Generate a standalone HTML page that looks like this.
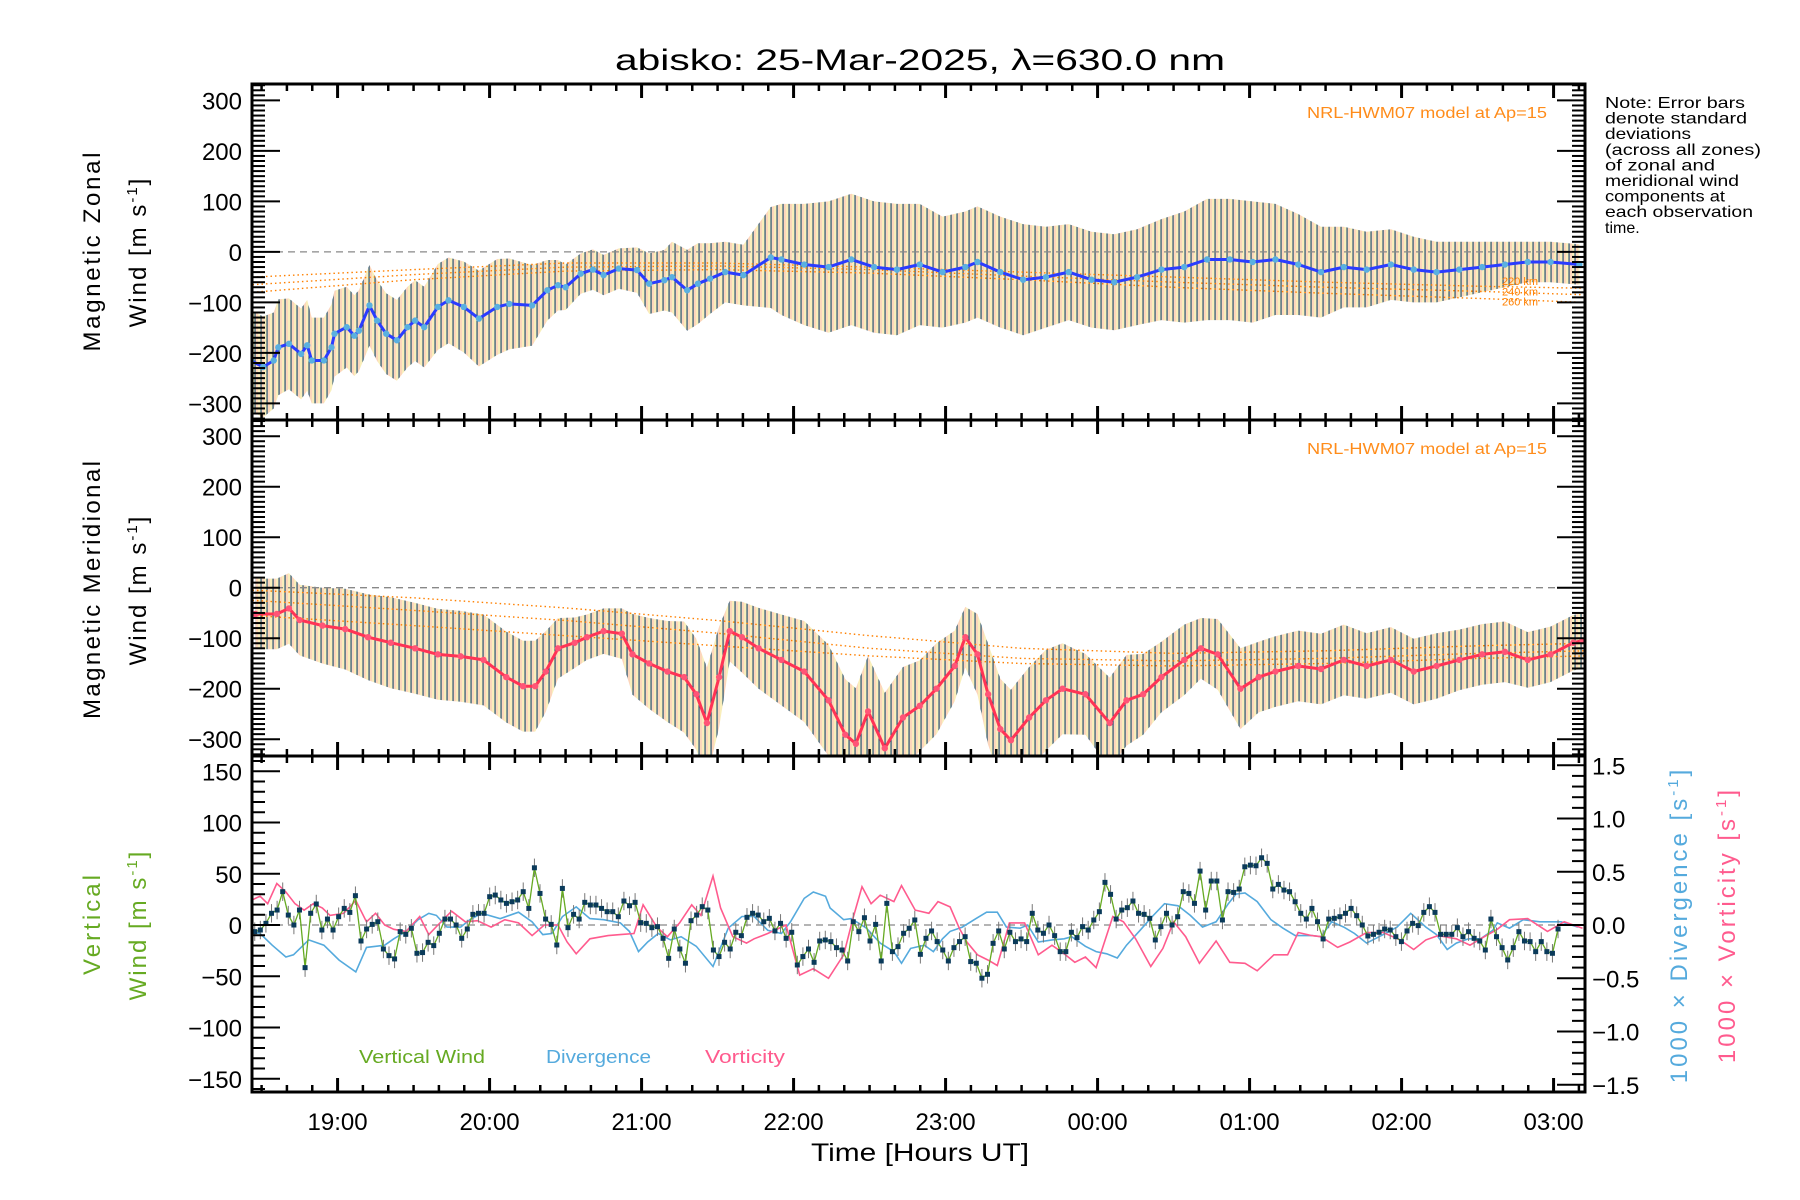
<!DOCTYPE html>
<html><head><meta charset="utf-8"><style>
html,body{margin:0;padding:0;background:#fff}
svg{display:block;font-family:"Liberation Sans","DejaVu Sans",sans-serif}
</style></head><body>
<svg id="chart" width="1800" height="1200" viewBox="0 0 1800 1200" xmlns="http://www.w3.org/2000/svg">
<defs>
<pattern id="barpat" patternUnits="userSpaceOnUse" width="6" height="10"><rect width="6" height="10" fill="#fcd6bc"/><rect x="0" width="3" height="10" fill="#f9eebb"/><rect x="2.5" width="1.1" height="10" fill="#13466b"/></pattern>
<clipPath id="c1"><rect x="252" y="84" width="1333" height="336"/></clipPath>
<clipPath id="c2"><rect x="252" y="420" width="1333" height="336"/></clipPath>
<clipPath id="c3"><rect x="252" y="756" width="1333" height="336"/></clipPath>
</defs>
<text x="920" y="70" font-size="30" text-anchor="middle" textLength="610" lengthAdjust="spacingAndGlyphs">abisko: 25-Mar-2025, λ=630.0 nm</text>
<g id="layer"></g>
<g id="axes"></g>
<text font-size="16" x="1605" y="108" font-weight="normal">
<tspan x="1605" dy="0" textLength="140" lengthAdjust="spacingAndGlyphs">Note: Error bars</tspan><tspan x="1605" dy="15.6" textLength="142" lengthAdjust="spacingAndGlyphs">denote standard</tspan><tspan x="1605" dy="15.6" textLength="86" lengthAdjust="spacingAndGlyphs">deviations</tspan><tspan x="1605" dy="15.6" textLength="156" lengthAdjust="spacingAndGlyphs">(across all zones)</tspan><tspan x="1605" dy="15.6" textLength="110" lengthAdjust="spacingAndGlyphs">of zonal and</tspan><tspan x="1605" dy="15.6" textLength="134" lengthAdjust="spacingAndGlyphs">meridional wind</tspan><tspan x="1605" dy="15.6" textLength="120" lengthAdjust="spacingAndGlyphs">components at</tspan><tspan x="1605" dy="15.6" textLength="148" lengthAdjust="spacingAndGlyphs">each observation</tspan><tspan x="1605" dy="15.6">time.</tspan></text>
<text x="1547" y="118" font-size="16" fill="#ff8c1a" text-anchor="end" textLength="240" lengthAdjust="spacingAndGlyphs">NRL-HWM07 model at Ap=15</text>
<text x="1547" y="454" font-size="16" fill="#ff8c1a" text-anchor="end" textLength="240" lengthAdjust="spacingAndGlyphs">NRL-HWM07 model at Ap=15</text>
<text font-size="24" text-anchor="middle" transform="translate(100,252) rotate(-90)" textLength="199">Magnetic Zonal</text>
<text font-size="24" text-anchor="middle" transform="translate(146,252) rotate(-90)" letter-spacing="2">Wind [m s<tspan font-size="15" dy="-9">-1</tspan><tspan dy="9">]</tspan></text>
<text font-size="24" text-anchor="middle" transform="translate(100,590) rotate(-90)" textLength="258">Magnetic Meridional</text>
<text font-size="24" text-anchor="middle" transform="translate(146,590) rotate(-90)" letter-spacing="2">Wind [m s<tspan font-size="15" dy="-9">-1</tspan><tspan dy="9">]</tspan></text>
<text font-size="24" fill="#66aa22" text-anchor="middle" transform="translate(100,925) rotate(-90)" textLength="100">Vertical</text>
<text font-size="24" fill="#66aa22" text-anchor="middle" transform="translate(146,925) rotate(-90)" letter-spacing="2">Wind [m s<tspan font-size="15" dy="-9">-1</tspan><tspan dy="9">]</tspan></text>
<text font-size="24" fill="#55aadd" text-anchor="middle" transform="translate(1687,925) rotate(-90)" letter-spacing="3">1000 × Divergence [s<tspan font-size="15" dy="-9">-1</tspan><tspan dy="9">]</tspan></text>
<text font-size="24" fill="#ff5b8e" text-anchor="middle" transform="translate(1735,925) rotate(-90)" letter-spacing="3">1000 × Vorticity [s<tspan font-size="15" dy="-9">-1</tspan><tspan dy="9">]</tspan></text>
<text x="359" y="1063" font-size="18" fill="#66aa22" textLength="126" lengthAdjust="spacingAndGlyphs">Vertical Wind</text>
<text x="546" y="1063" font-size="18" fill="#55aadd" textLength="105" lengthAdjust="spacingAndGlyphs">Divergence</text>
<text x="705" y="1063" font-size="18" fill="#ff5b8e" textLength="80" lengthAdjust="spacingAndGlyphs">Vorticity</text>
<text x="920" y="1161" font-size="25" text-anchor="middle" textLength="218" lengthAdjust="spacingAndGlyphs">Time [Hours UT]</text>
</svg>
<script>
// ---- data ----
const zonalTimes=[18.43,18.51,18.58,18.61,18.68,18.76,18.80,18.83,18.91,18.96,18.98,19.06,19.11,19.14,19.21,19.26,19.32,19.39,19.46,19.51,19.57,19.66,19.73,19.83,19.93,20.05,20.13,20.28,20.38,20.45,20.50,20.60,20.68,20.75,20.85,20.97,21.05,21.15,21.20,21.30,21.37,21.45,21.55,21.67,21.85,21.92,22.07,22.23,22.38,22.53,22.68,22.83,22.98,23.13,23.21,23.36,23.51,23.66,23.81,23.96,24.11,24.26,24.42,24.57,24.72,24.87,25.02,25.17,25.32,25.47,25.62,25.77,25.93,26.08,26.23,26.38,26.53,26.68,26.83,26.98,27.17];
const zonalMean=[-215,-228,-215,-189,-182,-202,-185,-215,-215,-189,-162,-149,-166,-156,-106,-136,-162,-175,-149,-136,-149,-109,-96,-109,-132,-109,-103,-106,-76,-66,-70,-43,-35,-46,-33,-36,-63,-56,-50,-76,-63,-53,-40,-46,-11,-15,-25,-30,-15,-30,-35,-25,-40,-30,-20,-40,-55,-50,-40,-55,-60,-50,-35,-30,-15,-15,-20,-15,-25,-40,-30,-35,-25,-35,-40,-35,-30,-25,-20,-20,-25];
const zonalSd=[100,100,95,95,90,90,90,85,85,85,85,80,80,80,80,80,80,80,80,80,80,85,85,90,95,95,90,80,60,50,45,40,40,40,40,45,60,60,70,80,80,70,60,60,100,110,120,130,130,130,130,120,110,110,110,110,110,100,95,95,95,95,100,110,120,120,120,110,100,90,80,75,70,65,60,55,50,45,40,40,40];
const meridTimes=[18.46,18.60,18.68,18.75,18.90,19.05,19.20,19.35,19.51,19.66,19.81,19.96,20.11,20.22,20.30,20.37,20.45,20.56,20.64,20.75,20.87,20.94,21.05,21.17,21.28,21.36,21.43,21.51,21.58,21.66,21.77,21.92,22.07,22.23,22.34,22.41,22.49,22.60,22.72,22.83,22.94,23.06,23.13,23.21,23.28,23.36,23.43,23.55,23.66,23.77,23.92,24.08,24.19,24.30,24.42,24.57,24.68,24.79,24.94,25.06,25.17,25.32,25.47,25.62,25.77,25.93,26.08,26.23,26.38,26.53,26.68,26.83,26.98,27.13,27.19];
const meridMean=[-52,-52,-41,-64,-75,-82,-98,-109,-120,-132,-136,-143,-177,-195,-195,-166,-120,-109,-98,-86,-91,-132,-150,-166,-177,-211,-268,-177,-86,-98,-120,-143,-166,-223,-291,-309,-245,-318,-257,-234,-200,-155,-98,-132,-211,-280,-302,-257,-223,-200,-211,-268,-223,-211,-177,-143,-120,-132,-200,-177,-166,-155,-161,-143,-155,-143,-166,-155,-143,-132,-127,-143,-132,-109,-105];
const meridSd=[70,70,70,70,75,80,85,90,90,90,90,90,90,90,90,80,60,50,45,45,50,80,90,100,110,110,110,100,60,70,80,90,100,110,110,110,110,110,100,90,90,70,60,80,100,100,100,100,100,90,80,90,90,80,70,70,60,70,80,70,70,70,70,70,65,65,65,65,60,60,60,55,55,55,55];
const modelTimes=[18.44,19.5,20.5,21.5,22.5,23.5,24.5,25.5,26.5,27.21];
const zonalModel220=[-50,-35,-22,-22,-30,-40,-50,-60,-68,-72];
const zonalModel240=[-65,-45,-30,-28,-35,-48,-60,-70,-78,-85];
const zonalModel260=[-80,-55,-38,-35,-42,-55,-70,-82,-92,-100];
const meridModel220=[-5,-20,-40,-65,-95,-120,-130,-125,-115,-110];
const meridModel240=[-25,-45,-65,-90,-120,-140,-145,-140,-130,-125];
const meridModel260=[-55,-75,-95,-115,-135,-150,-155,-150,-140,-135];
const vertStart=18.455;
const vertCadence=0.0368;
const vertWind=[-6.5,-4.9,1.6,11.4,14.6,32.5,9.7,0,14.6,-41.6,11.4,20.5,-4.9,5.8,-4.9,8.1,16.2,12.3,28.6,-15.6,-3.9,0.6,3.2,-23.4,-29.9,-33.1,-6.5,-9.1,-3.2,-27.6,-26.9,-16.9,-20.1,-8.1,5.8,5.8,0,-13,-3.9,10.4,11.4,11.4,27.6,29.2,24.4,21.1,22.7,24.4,32.5,16.2,55.8,30.8,5.8,0.6,-19.5,35.7,-2.6,10.4,5.8,22.1,19.5,19.5,16.2,13,13,8.1,23.4,18.8,22.1,2.3,1.6,-2.6,-1.6,-13,-32.5,-3.9,-23.4,-37.3,4.2,9.7,17.9,14.6,-24.4,-30.8,-16.9,-23.4,-7.1,-10.4,7.5,11.4,9.7,3.2,6.5,-5.8,1.6,-13,-7.1,-39,-30.8,-23.4,-36.4,-15.6,-14.6,-16.2,-22.1,-24.4,-35.1,3.2,-6.5,7.1,-15.6,0.6,-35.1,21.1,-26,-21.1,-8.1,-3.2,4.9,-28.6,-13,-5.8,
-16.2,-24.4,-35.1,-22.1,-16.2,-11.4,-35.7,-37.3,-51.9,-48.1,-17.9,-5.8,-23.4,-7.1,-16.2,-13.6,-16.2,11.4,-4.9,-8.1,0,-10.4,-26,-26,-7.1,-12.3,-1.6,-4.9,4.9,13,41.6,29.9,5.8,14.6,16.9,23.4,11.4,10.4,6.5,-14.6,-1.6,11.4,0,8.1,32.5,30.8,21.1,52.6,14.6,42.9,42.9,4.9,32.5,31.8,35.1,56.8,58.4,57.8,65.6,60.1,35.1,39.6,34.1,32.5,22.7,11.4,5.8,16.2,3.2,-13.6,5.8,6.5,8.1,11.4,16.2,9.1,0,-10.7,-9.1,-7.1,-3.9,-4.9,-11.4,-16.2,-5.8,1.6,-0.6,12.3,17.9,12.3,-9.1,-9.1,-9.1,-2.6,-11.4,-6.5,-13,-15.6,-24.4,5.8,-11.4,-22.1,-34.1,-22.1,-6.5,-15.6,-16.2,-26,-16.2,-26,-27.6,-3.9];
const divTimes=[18.43,18.49,18.57,18.66,18.71,18.81,18.91,19.01,19.12,19.19,19.31,19.37,19.45,19.53,19.60,19.65,19.72,19.81,19.87,19.95,20.07,20.19,20.28,20.35,20.41,20.48,20.57,20.66,20.75,20.86,20.92,20.98,21.04,21.11,21.19,21.26,21.36,21.47,21.57,21.66,21.74,21.83,21.92,21.98,22.07,22.13,22.21,22.24,22.33,22.38,22.48,22.57,22.66,22.71,22.77,22.86,22.92,22.98,23.03,23.11,23.20,23.27,23.34,23.40,23.49,23.54,23.61,23.70,23.78,23.83,23.92,23.99,24.06,24.13,24.19,24.28,24.36,24.44,24.53,24.61,24.69,24.78,24.86,24.91,24.97,25.05,25.14,25.22,25.30,25.41,25.47,25.54,25.62,25.69,25.77,25.88,25.97,26.06,26.16,26.23,26.30,26.36,26.44,26.52,26.60,26.63,26.71,26.80,26.91,27.05,27.16];
const divergence=[-0.06,-0.08,-0.19,-0.30,-0.28,-0.14,-0.19,-0.33,-0.44,-0.21,-0.19,-0.13,-0.06,0.05,0.11,0.09,-0.02,-0.02,0.05,0.11,0.06,0.12,0.03,-0.09,-0.08,0.08,0.17,0.06,0.05,0.02,-0.06,-0.25,-0.16,-0.08,-0.14,-0.11,-0.20,-0.39,-0.03,0.08,0.08,-0.05,-0.08,0.03,0.25,0.31,0.27,0.16,0.05,0.06,-0.03,-0.17,-0.25,-0.36,-0.22,-0.19,-0.25,-0.13,-0.06,-0.02,0.06,0.12,0.12,-0.02,-0.03,0,-0.16,-0.14,-0.13,-0.11,-0.20,-0.25,-0.27,-0.31,-0.19,-0.05,0.08,0.20,0.18,0.09,-0.02,0.03,0.20,0.29,0.30,0.22,0.05,-0.03,-0.10,-0.10,-0.11,0.03,-0.02,-0.08,-0.17,-0.09,-0.02,0.11,-0.02,-0.09,-0.23,-0.17,-0.13,-0.13,-0.05,0.02,-0.03,0.05,0.03,0.03,-0.02];
const vortTimes=[18.43,18.49,18.54,18.60,18.66,18.72,18.78,18.84,18.90,18.95,19.04,19.12,19.19,19.25,19.31,19.37,19.45,19.54,19.60,19.66,19.75,19.84,19.92,20.01,20.10,20.19,20.28,20.36,20.45,20.51,20.57,20.66,20.78,20.86,20.95,21.01,21.10,21.17,21.25,21.33,21.39,21.47,21.52,21.60,21.69,21.74,21.83,21.95,22.04,22.13,22.23,22.33,22.39,22.45,22.51,22.57,22.66,22.71,22.80,22.89,22.95,23.03,23.09,23.14,23.21,23.28,23.34,23.42,23.52,23.61,23.70,23.78,23.85,23.92,23.99,24.10,24.17,24.25,24.35,24.43,24.50,24.58,24.67,24.78,24.87,24.97,25.05,25.16,25.25,25.32,25.41,25.47,25.58,25.66,25.77,25.88,25.99,26.08,26.16,26.24,26.36,26.45,26.52,26.63,26.71,26.83,26.96,27.07,27.19];
const vorticity=[0.23,0.27,0.20,0.39,0.31,0.20,0.14,0.20,0.16,0.09,0.11,0.23,0.03,0.11,0,-0.04,-0.06,0.08,-0.09,0,0.13,0.03,0.04,-0.02,0.05,0.02,-0.10,0,0,-0.16,-0.27,-0.13,-0.10,-0.09,-0.08,0.19,-0.02,-0.11,0.02,0.19,0.09,0.46,0.16,-0.11,-0.17,-0.13,-0.08,0,-0.47,-0.41,-0.50,-0.28,0.06,0.36,0.20,0.28,0.22,0.37,0.14,0.11,0.22,0.17,-0.03,-0.16,-0.28,-0.33,-0.38,0.02,0.02,-0.28,-0.19,-0.27,-0.35,-0.30,-0.40,0.08,0.03,-0.13,-0.39,-0.22,0.03,-0.11,-0.36,-0.15,-0.35,-0.36,-0.43,-0.28,-0.28,-0.07,-0.10,-0.11,-0.21,-0.16,-0.07,-0.07,-0.14,-0.23,-0.14,-0.10,-0.13,-0.19,-0.13,-0.04,0.05,0.06,-0.06,0.03,-0.03];
const hourTicks=[19,20,21,22,23,24,25,26,27];
const hourLabels=["19:00","20:00","21:00","22:00","23:00","00:00","01:00","02:00","03:00"];
const windTicks=[300,200,100,0,-100,-200,-300];
const vertTicks=[150,100,50,0,-50,-100,-150];
const rightTicks=[1.5,1.0,0.5,0.0,-0.5,-1.0,-1.5];

// ---- scales ----
const L=252,R=1585,T0=18.437,PXH=152;
const X=t=>L+(t-T0)*PXH;
const Y1=v=>251.9-v*0.505, Y2=v=>587.7-v*0.505, Y3=v=>925-v*1.025, YR=r=>925-r*106.5;
const NS='http://www.w3.org/2000/svg';
const layer=document.getElementById('layer'), axes=document.getElementById('axes');
function mk(tag,attrs,parent){const e=document.createElementNS(NS,tag);for(const k in attrs)e.setAttribute(k,attrs[k]);(parent||layer).appendChild(e);return e;}
function pts(ts,vs,Y){return ts.map((t,i)=>X(t).toFixed(1)+','+Y(vs[i]).toFixed(1)).join(' ');}

function panel(clip,Y,times,mean,sd,models,lineCol,dotCol,name){
  const g=mk('g',{'clip-path':'url(#'+clip+')'});
  
  
  const up=times.map((t,i)=>X(t).toFixed(1)+','+Y(mean[i]+sd[i]).toFixed(1));
  const dn=times.map((t,i)=>X(t).toFixed(1)+','+Y(mean[i]-sd[i]).toFixed(1)).reverse();
  const band=mk('polygon',{points:up.concat(dn).join(' '),fill:'url(#barpat)'},g);
  
  
  const z=mk('line',{x1:L,x2:R,y1:Y(0),y2:Y(0),stroke:'#888','stroke-width':1.3,'stroke-dasharray':'7,5'},g);
  
  
  models.forEach((m,k)=>{
    const p=mk('polyline',{points:pts(modelTimes,m,Y),fill:'none',stroke:'#ff8000','stroke-width':1.4,'stroke-dasharray':'1.5,3'},g);
    
    
  });
  const ln=mk('polyline',{points:pts(times,mean,Y),fill:'none',stroke:lineCol,'stroke-width':3,'stroke-linejoin':'round'},g);
  
  
  times.forEach((t,i)=>{
    const c=mk('circle',{cx:X(t),cy:Y(mean[i]),r:3.2,fill:dotCol},g);
    
    
  });
}
panel('c1',Y1,zonalTimes,zonalMean,zonalSd,[zonalModel220,zonalModel240,zonalModel260],'#2a3cff','#5ab0e0','zonal');
panel('c2',Y2,meridTimes,meridMean,meridSd,[meridModel220,meridModel240,meridModel260],'#ff3355','#ff5577','meridional');
[['220 km',-58],['240 km',-78],['260 km',-98]].forEach(a=>{
  const t=mk('text',{x:1520,y:Y1(a[1])+4,'font-size':11,fill:'#ff8000','text-anchor':'middle'});t.textContent=a[0];
  
  
});

// panel 3
const g3=mk('g',{'clip-path':'url(#c3)'});


const z3=mk('line',{x1:L,x2:R,y1:Y3(0),y2:Y3(0),stroke:'#888','stroke-width':1.3,'stroke-dasharray':'7,5'},g3);


const dl=mk('polyline',{points:pts(divTimes,divergence,YR),fill:'none',stroke:'#55aadd','stroke-width':1.6},g3);


const vl=mk('polyline',{points:pts(vortTimes,vorticity,YR),fill:'none',stroke:'#ff5b8e','stroke-width':1.6},g3);


const vTimes=vertWind.map((v,i)=>vertStart+i*vertCadence);
vTimes.forEach((t,i)=>{
  const e=mk('line',{x1:X(t),x2:X(t),y1:Y3(vertWind[i]+9),y2:Y3(vertWind[i]-9),stroke:'#777','stroke-width':1},g3);
  
  
});
const gl=mk('polyline',{points:pts(vTimes,vertWind,Y3),fill:'none',stroke:'#66aa22','stroke-width':1.3},g3);


vTimes.forEach((t,i)=>{
  const r=mk('rect',{x:X(t)-2.5,y:Y3(vertWind[i])-2.5,width:5,height:5,fill:'#0a3a5a'},g3);
  
  
});

// axes
function tick(x1,y1,x2,y2,w){mk('line',{x1,y1,x2,y2,stroke:'#000','stroke-width':w||2},axes);}
[[84,420],[420,756],[756,1092]].forEach(([top,bot])=>{
  const fr=mk('rect',{x:L,y:top,width:R-L,height:bot-top,fill:'none',stroke:'#000','stroke-width':3},axes);
  
  
  for(let m=0;m<=53;m++){const t=18.5+m/6; if(t>27.21)break; const x=X(t); const maj=Math.abs(t-Math.round(t))<1e-6;
    const len=maj?14:7; tick(x,top,x,top+len,maj?3:2.5); tick(x,bot,x,bot-len,maj?3:2.5);}
});
function yaxis(Y,lo,hi,minStep,majStep,labels,side){
  for(let v=Math.ceil(lo/minStep)*minStep;v<=hi+1e-9;v+=minStep){const y=Y(v);const maj=Math.abs(v/majStep-Math.round(v/majStep))<1e-6;
    if(side==='L'){tick(L,y,L+(maj?28:13),y,2);}else{tick(R,y,R-(maj?28:13),y,2);}}
}
yaxis(Y1,-332,332,10,100,null,'L');yaxis(Y1,-332,332,10,100,null,'R');
yaxis(Y2,-332,332,10,100,null,'L');yaxis(Y2,-332,332,10,100,null,'R');
yaxis(Y3,-163,165,10,50,null,'L');yaxis(YR,-1.57,1.55,0.1,0.5,null,'R');
function lab(x,y,s,anchor,name){const t=mk('text',{x,y,'font-size':24,'text-anchor':anchor},axes);t.textContent=s;
  
  }
windTicks.forEach(v=>{lab(242,Y1(v)+9,v<0?'\u2212'+(-v):String(v),'end','zonal-y-tick-label');lab(242,Y2(v)+9,v<0?'\u2212'+(-v):String(v),'end','meridional-y-tick-label');});
vertTicks.forEach(v=>lab(242,Y3(v)+9,v<0?'\u2212'+(-v):String(v),'end','vertical-y-tick-label'));
rightTicks.forEach(v=>lab(1592,YR(v)+9,(v<0?'\u2212':'')+Math.abs(v).toFixed(1),'start','right-y-tick-label'));
hourTicks.forEach((h,i)=>lab(X(h),1130,hourLabels[i],'middle','x-tick-label'));
</script>
</body></html>
